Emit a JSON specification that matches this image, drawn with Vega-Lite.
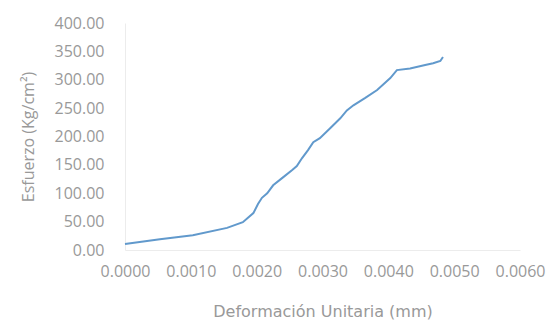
{
  "$schema": "https://vega.github.io/schema/vega-lite/v6.json",
  "width": 395,
  "height": 227,
  "autosize": "none",
  "padding": {"left": 125, "top": 23, "right": 38, "bottom": 73},
  "background": "white",
  "config": {
    "view": {"stroke": null},
    "axis": {"labelFont": "Open Sans", "titleFont": "Open Sans", "labelColor": "#999999", "titleColor": "#999999", "titleFontWeight": "normal", "grid": false, "ticks": false, "domainColor": "#ececec", "labelOverlap": false, "labelFlush": false}
  },
  "data": {"values": [
    {"x": 0.0, "y": 10.5},
    {"x": 0.00053, "y": 19},
    {"x": 0.00103, "y": 26},
    {"x": 0.00155, "y": 39},
    {"x": 0.00179, "y": 49},
    {"x": 0.00195, "y": 65},
    {"x": 0.00202, "y": 81},
    {"x": 0.00208, "y": 92},
    {"x": 0.00216, "y": 100},
    {"x": 0.00225, "y": 114},
    {"x": 0.0024, "y": 128},
    {"x": 0.00254, "y": 141},
    {"x": 0.00261, "y": 148},
    {"x": 0.00269, "y": 162},
    {"x": 0.00278, "y": 176},
    {"x": 0.00286, "y": 190},
    {"x": 0.00296, "y": 197},
    {"x": 0.00312, "y": 215},
    {"x": 0.00327, "y": 232},
    {"x": 0.00337, "y": 246},
    {"x": 0.00347, "y": 255},
    {"x": 0.00365, "y": 268},
    {"x": 0.00383, "y": 282},
    {"x": 0.00403, "y": 303},
    {"x": 0.00413, "y": 317},
    {"x": 0.00433, "y": 320},
    {"x": 0.00456, "y": 326},
    {"x": 0.00468, "y": 329},
    {"x": 0.00479, "y": 333},
    {"x": 0.00483, "y": 340}
  ]},
  "mark": {"type": "line", "color": "#6199cc", "strokeWidth": 2},
  "encoding": {
    "x": {"field": "x", "type": "quantitative", "scale": {"domain": [0, 0.006], "nice": false},
      "axis": {"values": [0, 0.001, 0.002, 0.003, 0.004, 0.005, 0.006], "format": ".4f", "title": "Deformación Unitaria (mm)", "labelFontSize": 16, "titleFont": "DejaVu Sans", "titleFontSize": 16, "labelPadding": 13, "titlePadding": 24}},
    "y": {"field": "y", "type": "quantitative", "scale": {"domain": [0, 400], "nice": false},
      "axis": {"values": [0, 50, 100, 150, 200, 250, 300, 350, 400], "format": ".2f", "title": "Esfuerzo (Kg/cm²)", "labelFontSize": 16, "titleFontSize": 16, "labelPadding": 21, "titlePadding": 18}}
  }
}
